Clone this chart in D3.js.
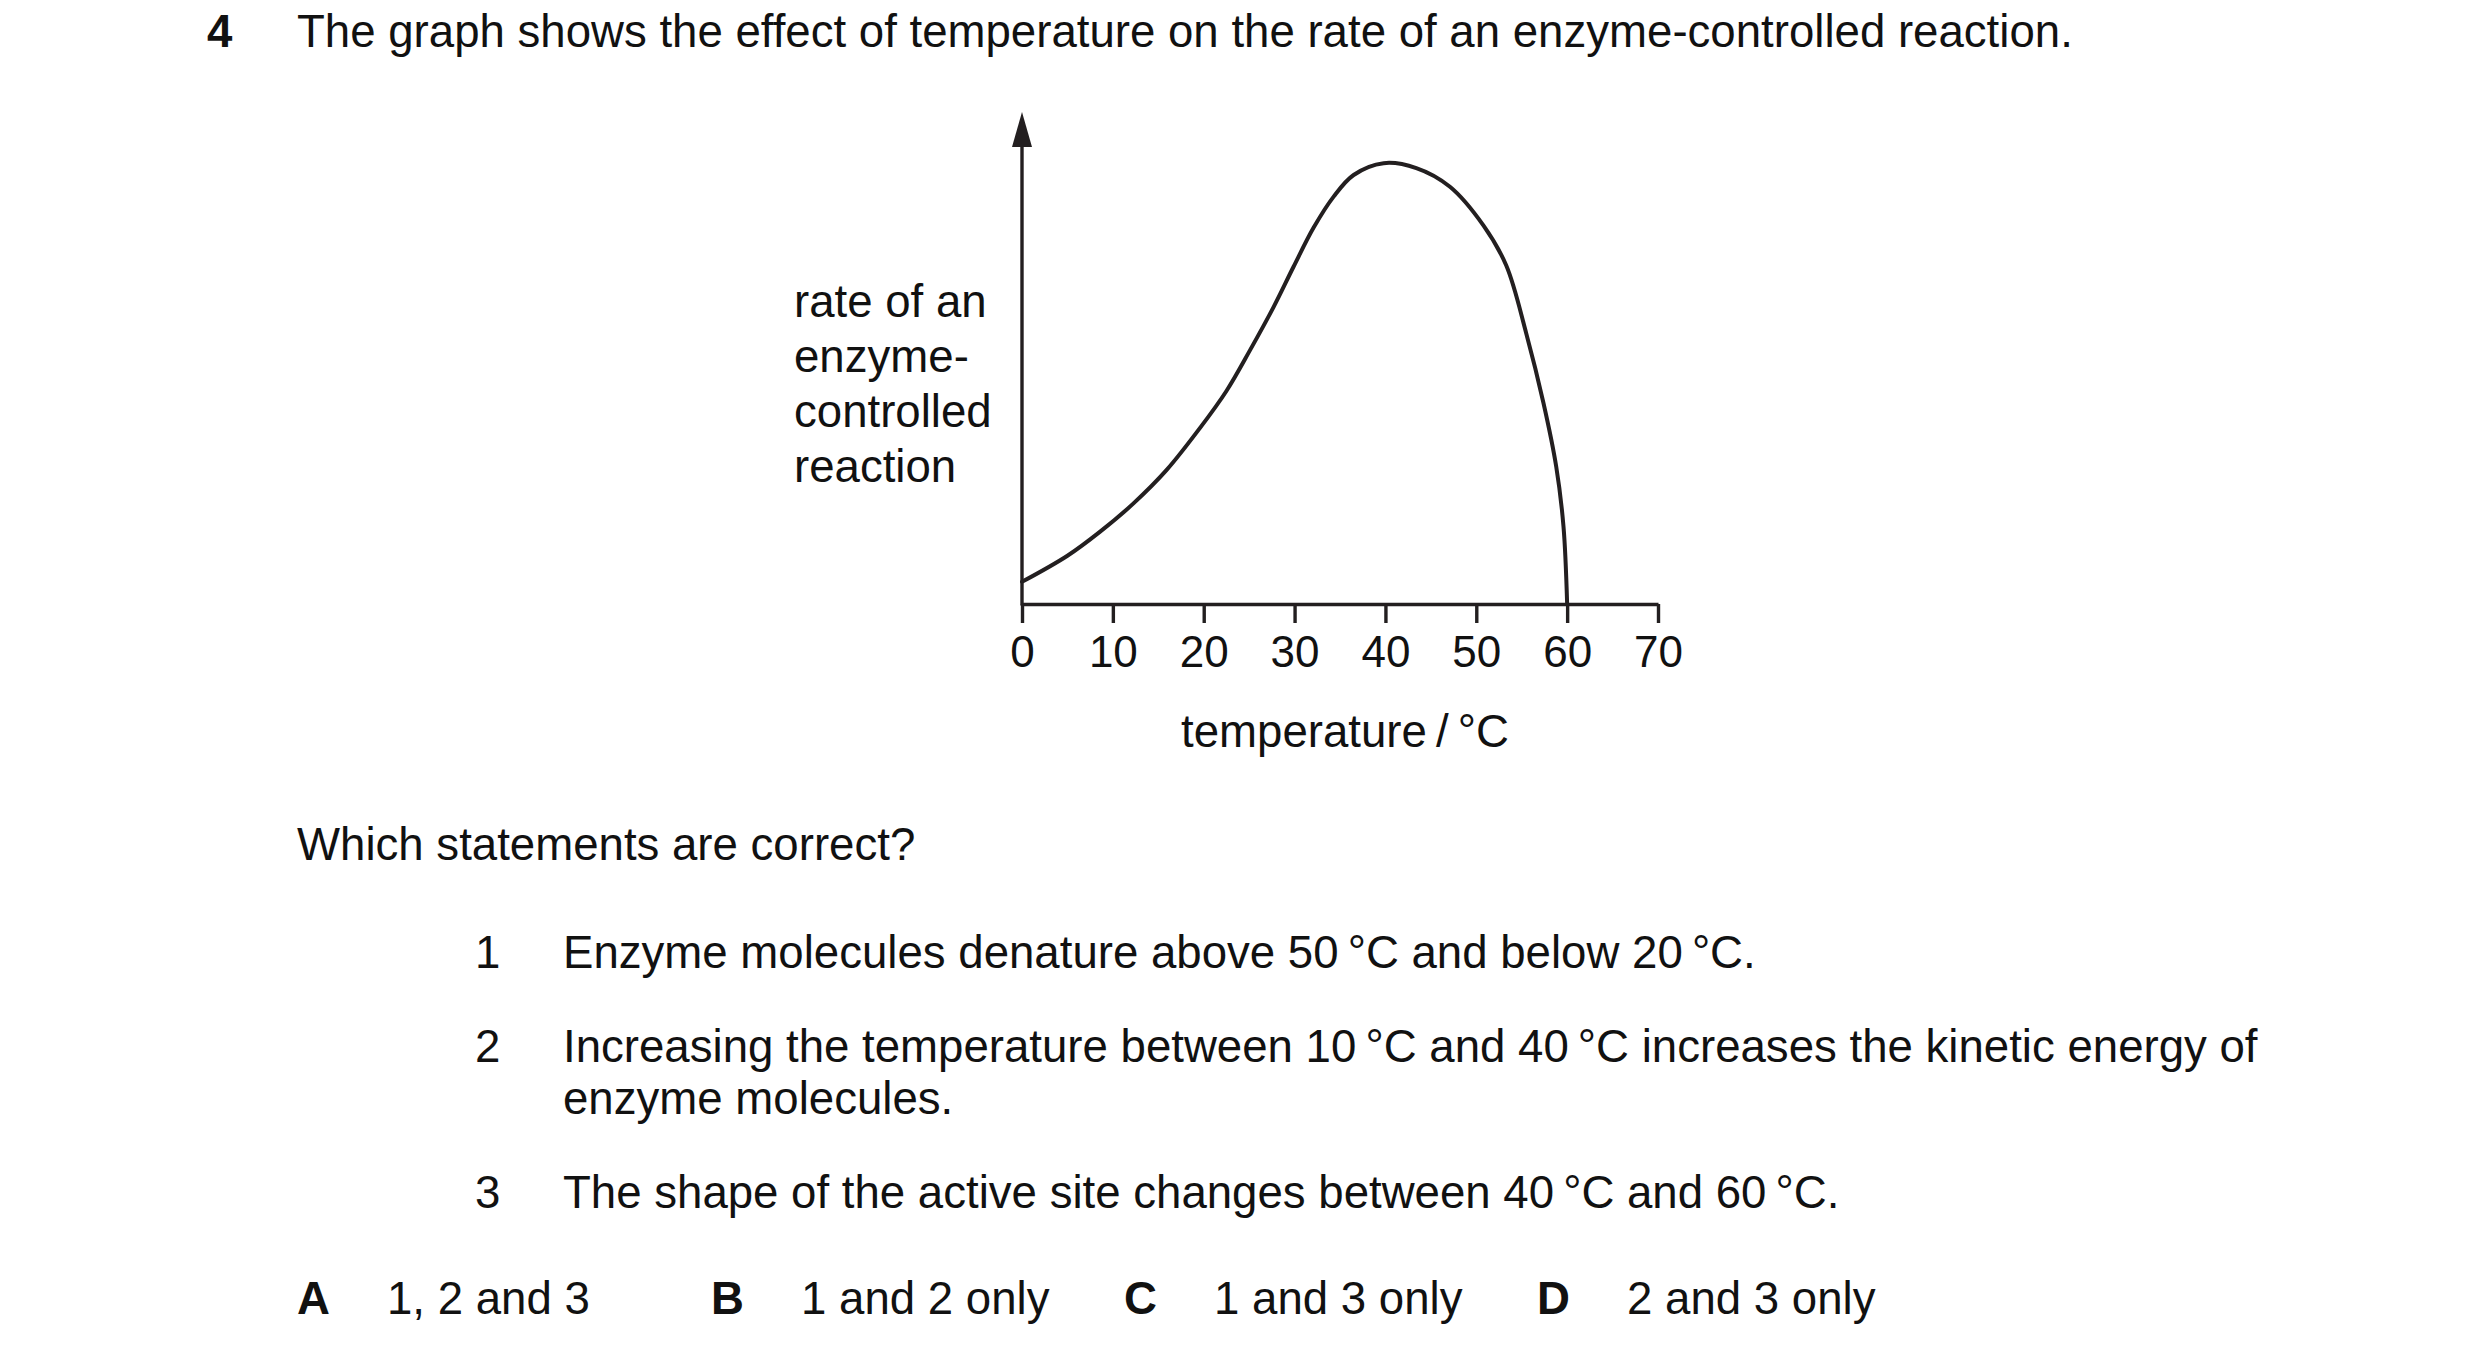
<!DOCTYPE html>
<html>
<head>
<meta charset="utf-8">
<script src="https://cdn.jsdelivr.net/npm/d3@7"></script>
<style>
  body { margin: 0; background: #fff; }
  text { font-family: "Liberation Sans", Arial, sans-serif; fill: #111; }
</style>
</head>
<body>
<div id="chart"></div>
<script>
// curve (rate in arbitrary units, 100 = arrow tip)
const temps = [0, 5, 8.6, 12.3, 15.9, 19.6, 22.5, 25.1, 27.7, 29.9, 32.1, 34.3, 36.5, 39.8, 43.4, 47.1, 50.8, 53.3, 55.5, 57.4, 58.8, 59.6, 60];
const rates = [4.5, 9.8, 14.7, 20.5, 27.2, 35.8, 43.3, 51.6, 60.4, 68.6, 76.5, 82.8, 87.2, 89.6, 88.6, 84.8, 76.9, 68.8, 55, 40.8, 27.9, 15.7, 0];
const xTicks = [0, 10, 20, 30, 40, 50, 60, 70];

const yLabel = ["rate of an", "enzyme-", "controlled", "reaction"];
const xLabel = "temperature\u2009/\u2009°C";
const question = "The graph shows the effect of temperature on the rate of an enzyme-controlled reaction.";
const prompt = "Which statements are correct?";
const statements = [
  { n: "1", lines: ["Enzyme molecules denature above 50\u2009°C and below 20\u2009°C."] },
  { n: "2", lines: ["Increasing the temperature between 10\u2009°C and 40\u2009°C increases the kinetic energy of", "enzyme molecules."] },
  { n: "3", lines: ["The shape of the active site changes between 40\u2009°C and 60\u2009°C."] }
];
const options = [
  { key: "A", text: "1, 2 and 3" },
  { key: "B", text: "1 and 2 only" },
  { key: "C", text: "1 and 3 only" },
  { key: "D", text: "2 and 3 only" }
];

const W = 2480, H = 1362;
const ink = "#231f20";
const fs = 45.6;

const svg = d3.select("#chart").append("svg")
  .attr("width", W).attr("height", H);
svg.append("rect").attr("width", W).attr("height", H).attr("fill", "#fff");

const x = d3.scaleLinear().domain([0, 70]).range([1022, 1658]);
const y = d3.scaleLinear().domain([0, 100]).range([604, 112]);

// question heading
svg.append("text").attr("x", 207).attr("y", 47)
  .style("font-size", fs + "px").style("font-weight", "bold").text("4");
svg.append("text").attr("x", 297).attr("y", 47)
  .style("font-size", fs + "px").text(question);

// x axis
const xAxis = svg.append("g")
  .attr("transform", "translate(0," + y(0) + ")")
  .call(d3.axisBottom(x).tickValues(xTicks).tickSize(19).tickSizeOuter(0).tickPadding(13));
xAxis.select(".domain").attr("stroke", ink).attr("stroke-width", 3.4);
xAxis.selectAll(".tick line").attr("stroke", ink).attr("stroke-width", 3.4);
xAxis.selectAll(".tick text")
  .attr("fill", ink)
  .style("font-family", "'Liberation Sans', Arial, sans-serif")
  .style("font-size", "44px");

// y axis with arrow head
const headLen = 35, headHalf = 10;
svg.append("line")
  .attr("x1", x(0)).attr("x2", x(0))
  .attr("y1", y(0) + 1.5).attr("y2", y(100) + headLen - 1)
  .attr("stroke", ink).attr("stroke-width", 3.4);
svg.append("path")
  .attr("d", d3.line()([
    [x(0), y(100)],
    [x(0) - headHalf, y(100) + headLen],
    [x(0) + headHalf, y(100) + headLen]
  ]) + "Z")
  .attr("fill", ink);

// curve
const pts = temps.map((t, i) => [t, rates[i]]);
svg.append("path")
  .datum(pts)
  .attr("fill", "none")
  .attr("stroke", ink)
  .attr("stroke-width", 4)
  .attr("stroke-linecap", "round")
  .attr("stroke-linejoin", "round")
  .attr("d", d3.line().x(d => x(d[0])).y(d => y(d[1])).curve(d3.curveCatmullRom.alpha(0.5)));

// axis labels
svg.append("g").selectAll("text")
  .data(yLabel).join("text")
  .attr("x", 794)
  .attr("y", (d, i) => 317 + i * 55)
  .attr("fill", ink)
  .style("font-size", fs + "px")
  .text(d => d);

svg.append("text")
  .attr("x", 1345).attr("y", 747)
  .attr("text-anchor", "middle")
  .attr("fill", ink)
  .style("font-size", fs + "px")
  .text(xLabel);

// statements
svg.append("text").attr("x", 297).attr("y", 860)
  .style("font-size", fs + "px").text(prompt);

const lineTops = [968, 1062, 1208];
statements.forEach((s, i) => {
  svg.append("text").attr("x", 475).attr("y", lineTops[i])
    .style("font-size", fs + "px").text(s.n);
  s.lines.forEach((l, j) => {
    svg.append("text").attr("x", 563).attr("y", lineTops[i] + j * 52)
      .style("font-size", fs + "px").text(l);
  });
});

// answer options
const keyX = [297, 711, 1124, 1537];
options.forEach((o, i) => {
  svg.append("text").attr("x", keyX[i]).attr("y", 1314)
    .style("font-size", fs + "px").style("font-weight", "bold").text(o.key);
  svg.append("text").attr("x", keyX[i] + 90).attr("y", 1314)
    .style("font-size", fs + "px").text(o.text);
});
</script>
</body>
</html>
